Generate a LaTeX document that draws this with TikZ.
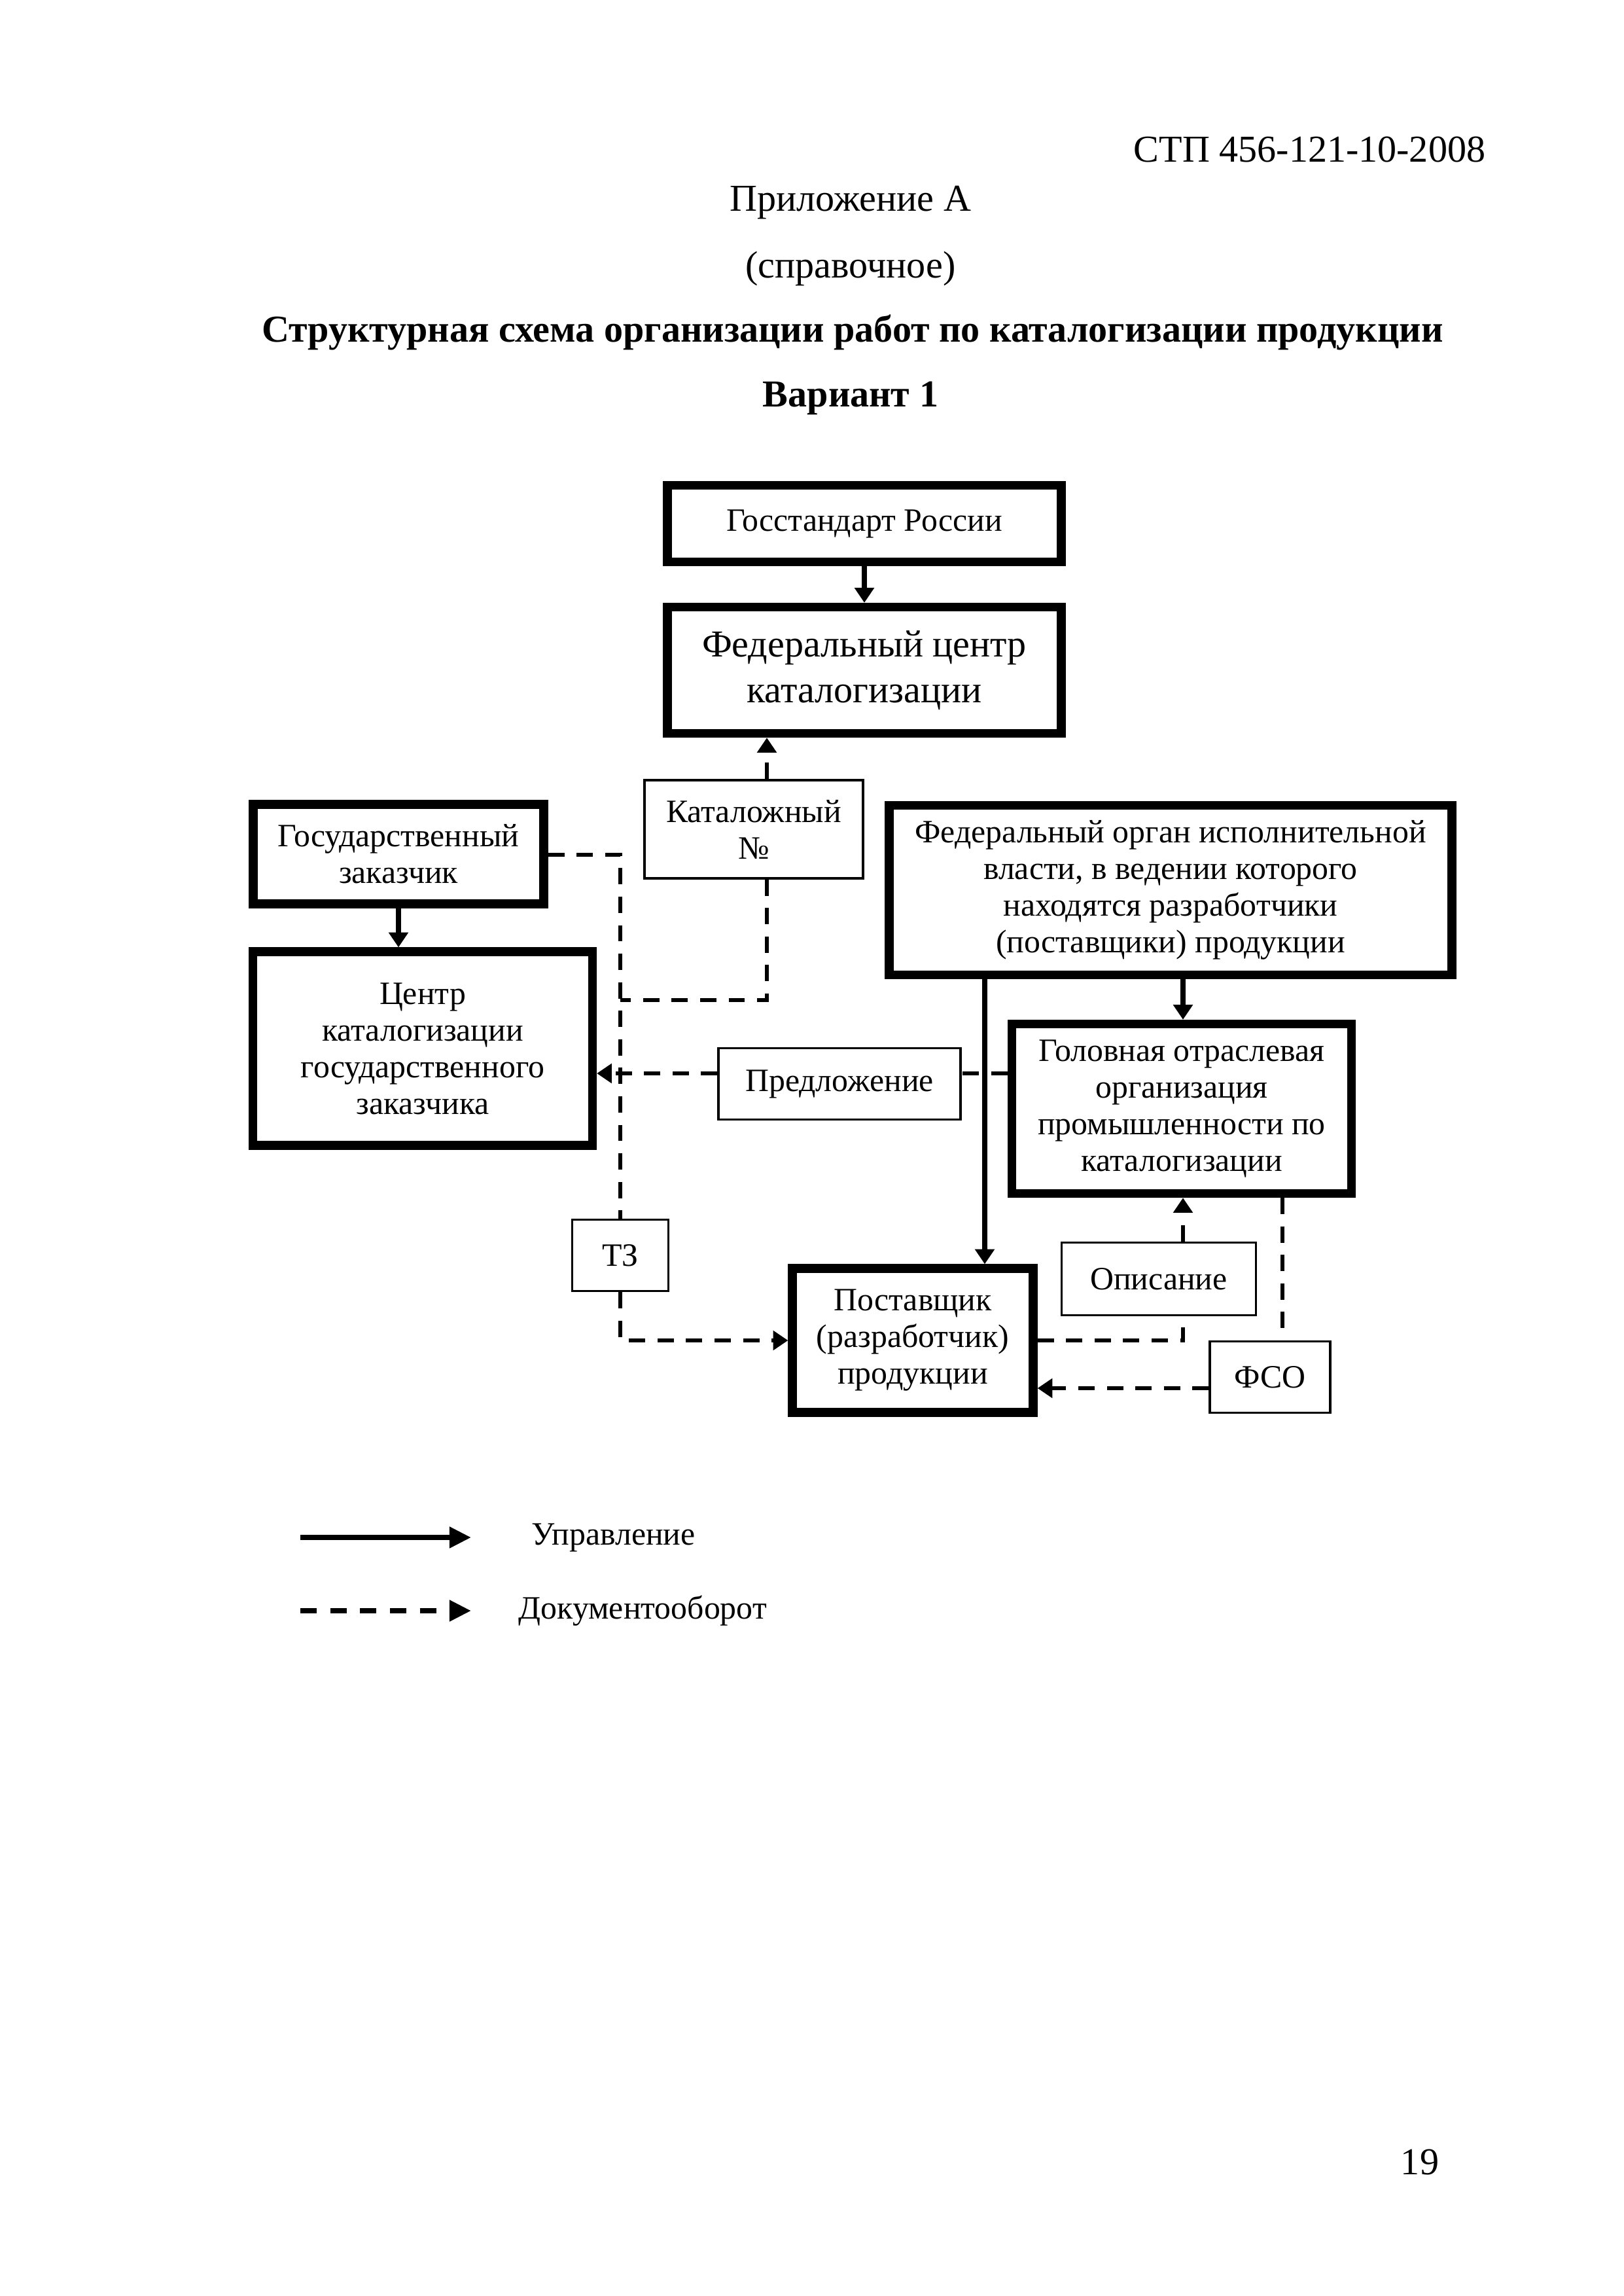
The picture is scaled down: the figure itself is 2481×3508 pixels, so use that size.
\documentclass[tikz,border=0pt]{standalone}
\usepackage{fontspec}
\setmainfont{Liberation Serif}
\usetikzlibrary{arrows.meta}
\newlength\pu
\setlength\pu{0.0084666cm}
\tikzset{
  thickbox/.style={draw, line width=3.2pt, align=center, inner sep=0pt, font=\fontsize{12}{13.5}\selectfont},
  thinbox/.style={draw, line width=0.8pt, align=center, inner sep=0pt, font=\fontsize{12}{13.5}\selectfont},
  ctrl/.style={line width=1.7pt, -{Triangle[length=5.5pt,width=7pt]}},
  docline/.style={line width=1.5pt, dash pattern=on 6pt off 4.5pt},
  doc/.style={docline, -{Triangle[length=5.5pt,width=7pt]}},
  hdr/.style={font=\fontsize{14}{16}\selectfont, inner sep=0pt},
  legtxt/.style={font=\fontsize{12}{14}\selectfont, inner sep=0pt, anchor=west},
}
\begin{document}
\begin{tikzpicture}[x=0.0084666cm,y=-0.0084666cm]
\useasboundingbox (0,0) rectangle (2481,3508);
\fill[white] (0,0) rectangle (2481,3508);

% header
\node[hdr, anchor=east] (code) at (2271,228) {СТП 456-121-10-2008};
\node[hdr] (app) at (1300,310) {Приложение А};
\node[hdr] (ref) at (1300,411) {(справочное)};
\node[hdr, font=\fontsize{14}{16}\selectfont\bfseries] (title) at (1303,508) {Структурная схема организации работ по каталогизации продукции};
\node[hdr, font=\fontsize{14}{16}\selectfont\bfseries] (var) at (1300,608) {Вариант 1};

% boxes
\node[thickbox, minimum width=602\pu, minimum height=117\pu] (gos) at (1321,800) {Госстандарт России};
\node[thickbox, minimum width=602\pu, minimum height=193\pu, font=\fontsize{14}{16.8}\selectfont] (fcc) at (1321,1024) {Федеральный центр\\каталогизации};
\node[thinbox, minimum width=334\pu, minimum height=150\pu] (katn) at (1152,1267) {Каталожный\\№};
\node[thickbox, minimum width=444\pu, minimum height=152\pu] (gz) at (609,1305) {Государственный\\заказчик};
\node[thickbox, minimum width=860\pu, minimum height=259\pu] (foiv) at (1789,1360) {Федеральный орган исполнительной\\власти, в ведении которого\\находятся разработчики\\(поставщики) продукции};
\node[thickbox, minimum width=519\pu, minimum height=296\pu] (czk) at (646,1602) {Центр\\каталогизации\\государственного\\заказчика};
\node[thinbox, minimum width=370\pu, minimum height=109\pu] (pred) at (1283,1656) {Предложение};
\node[thickbox, minimum width=519\pu, minimum height=259\pu] (gol) at (1806,1694) {Головная отраслевая\\организация\\промышленности по\\каталогизации};
\node[thinbox, minimum width=147\pu, minimum height=109\pu] (tz) at (948,1918) {ТЗ};
\node[thickbox, minimum width=368\pu, minimum height=220\pu] (post) at (1395,2048) {Поставщик\\(разработчик)\\продукции};
\node[thinbox, minimum width=297\pu, minimum height=111\pu] (opis) at (1771,1954) {Описание};
\node[thinbox, minimum width=184\pu, minimum height=109\pu] (fso) at (1941,2104) {ФСО};

% control connectors
\draw[ctrl] (gos) -- (fcc);
\draw[ctrl] (gz.south) -- (gz.south |- czk.north);
\draw[ctrl] (1808,0 |- foiv.south) -- (1808,0 |- gol.north);
\draw[ctrl] (1505,0 |- foiv.south) -- (1505,0 |- post.north);

% document connectors
\coordinate (jk) at (948,1528);
\draw[doc] (1172,0 |- katn.north) -- (1172,0 |- fcc.south);
\draw[docline] (1172,0 |- katn.south) -- (1172,1528) -- (jk);
\draw[docline] (gz.east |- 0,1306) -- (948,1306) -- (tz.north);
\draw[doc] (tz.south) |- (post.west);
\draw[docline] (gol.west |- 0,1640) -- (pred.east |- 0,1640);
\draw[doc] (pred.west |- 0,1640) -- (czk.east |- 0,1640);
\draw[docline] (post.east) -- (1808,2048) -- (1808,0 |- opis.south);
\draw[doc] (1808,0 |- opis.north) -- (1808,0 |- gol.south);
\draw[docline] (1960,0 |- gol.south) -- (1960,0 |- fso.north);
\draw[doc] (fso.west |- 0,2121) -- (post.east |- 0,2121);

% legend
\coordinate (la1) at (459,2349);
\coordinate (la2) at (720,2349);
\coordinate (lb1) at (459,2461);
\coordinate (lb2) at (720,2461);
\draw[line width=1.9pt, -{Triangle[length=8pt,width=7.5pt]}] (la1) -- (la2);
\draw[line width=1.9pt, dash pattern=on 6pt off 5pt, -{Triangle[length=8pt,width=7.5pt]}] (lb1) -- (lb2);
\node[legtxt] (lt1) at (812,2349) {Управление};
\node[legtxt] (lt2) at (792,2461) {Документооборот};

% page number
\node[hdr] (pg) at (2170,3304) {19};
\end{tikzpicture}
\end{document}
